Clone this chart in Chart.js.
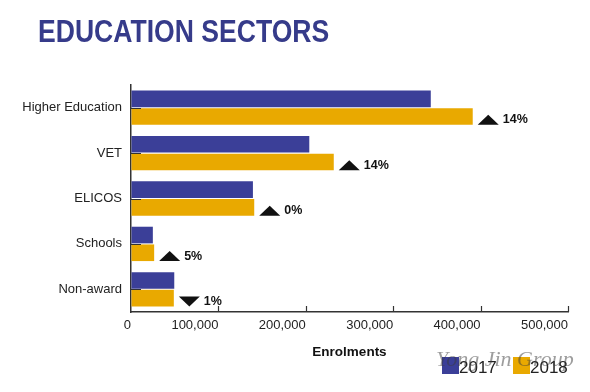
<!DOCTYPE html>
<html>
<head>
<meta charset="utf-8">
<script src="https://cdn.jsdelivr.net/npm/chart.js@4/dist/chart.umd.min.js"></script>
<style>
  html, body { margin: 0; padding: 0; background: #ffffff; }
  #wrap { position: relative; width: 590px; height: 392px; }
  #title { position: absolute; left: 38px; top: 13px; font-family: "Liberation Sans", Arial, sans-serif; font-weight: bold; font-size: 32px; color: #363b8a; white-space: nowrap; transform: scaleX(0.83); transform-origin: 0 0; }
  canvas { position: absolute; left: 0; top: 0; }
</style>
</head>
<body>
<div id="wrap">
  <canvas id="c" width="590" height="392"></canvas>
  <div id="title">EDUCATION SECTORS</div>
</div>
<script>
const categories = ["Higher Education", "VET", "ELICOS", "Schools", "Non-award"];
const seriesNames = ["2017", "2018"];
const values2017 = [343000, 204000, 139500, 25000, 49500];
const values2018 = [391000, 232000, 141000, 26500, 49000];
const changeLabels = ["14%", "14%", "0%", "5%", "1%"];
const changeDirections = ["up", "up", "up", "up", "down"];
const xTickValues = [0, 100000, 200000, 300000, 400000, 500000];
const axisTitle = "Enrolments";
const watermarkText = "Yong Jin Group";

const BLUE = "#3b3f98";
const GOLD = "#e9a900";
const FONT = "'Liberation Sans', Arial, sans-serif";

const decorPlugin = {
  id: "decor",
  afterDatasetsDraw(chart) {
    const ctx = chart.ctx;
    const xs = chart.scales.x;
    const ys = chart.scales.y;
    const area = chart.chartArea;
    ctx.save();
    ctx.strokeStyle = "#333";
    ctx.lineWidth = 1.2;
    xTickValues.forEach(v => {
      if (v === 0) return;
      const px = Math.round(xs.getPixelForValue(v)) + 0.5;
      ctx.beginPath();
      ctx.moveTo(px, area.bottom);
      ctx.lineTo(px, area.bottom - 6);
      ctx.stroke();
    });
    ctx.lineWidth = 1;
    categories.forEach((c, i) => {
      const py = Math.round(ys.getPixelForValue(i)) + 0.5;
      ctx.beginPath();
      ctx.moveTo(area.left, py);
      ctx.lineTo(area.left + 10, py);
      ctx.stroke();
    });
    const meta = chart.getDatasetMeta(1);
    ctx.fillStyle = "#111";
    meta.data.forEach((bar, i) => {
      const props = bar.getProps(["x", "y", "height"], true);
      const bottom = props.y + props.height / 2;
      const cy = bottom - 5;
      const x0 = props.x + 5;
      const w = 21, h = 10;
      ctx.beginPath();
      if (changeDirections[i] === "up") {
        ctx.moveTo(x0, cy + h / 2);
        ctx.lineTo(x0 + w, cy + h / 2);
        ctx.lineTo(x0 + w / 2, cy - h / 2);
      } else {
        ctx.moveTo(x0, cy - h / 2);
        ctx.lineTo(x0 + w, cy - h / 2);
        ctx.lineTo(x0 + w / 2, cy + h / 2);
      }
      ctx.closePath();
      ctx.fill();
      ctx.font = "bold 12.5px " + FONT;
      ctx.textAlign = "left";
      ctx.textBaseline = "middle";
      ctx.fillText(changeLabels[i], x0 + w + 4, cy);
    });
    ctx.restore();
  },
  afterDraw(chart) {
    const ctx = chart.ctx;
    ctx.save();
    const colors = [BLUE, GOLD];
    const positions = [442, 513];
    ctx.font = "17px " + FONT;
    ctx.textBaseline = "middle";
    ctx.textAlign = "left";
    chart.data.datasets.forEach((ds, i) => {
      ctx.fillStyle = colors[i];
      ctx.fillRect(positions[i], 357, 17, 17);
      ctx.fillStyle = "#222";
      ctx.fillText(ds.label, positions[i] + 17, 368);
    });
    ctx.font = "italic 22px 'Liberation Serif', serif";
    ctx.fillStyle = "rgba(60,60,60,0.5)";
    ctx.textBaseline = "middle";
    ctx.fillText(watermarkText, 436, 360);
    ctx.restore();
  }
};

new Chart(document.getElementById("c"), {
  type: "bar",
  data: {
    labels: categories,
    datasets: [
      { label: seriesNames[0], data: values2017, backgroundColor: BLUE, categoryPercentage: 0.78, barPercentage: 0.94 },
      { label: seriesNames[1], data: values2018, backgroundColor: GOLD, categoryPercentage: 0.78, barPercentage: 0.94 }
    ]
  },
  options: {
    indexAxis: "y",
    responsive: false,
    animation: false,
    layout: { padding: { top: 85, right: 22, bottom: 0, left: 0 } },
    plugins: { legend: { display: false }, tooltip: { enabled: false }, title: { display: false } },
    scales: {
      x: {
        min: 0, max: 500000,
        afterBuildTicks(scale) { scale.ticks = xTickValues.map(v => ({ value: v })); },
        afterFit(scale) { scale.height = 80; scale.paddingLeft = 0; scale.paddingRight = 0; },
        grid: { display: true, drawOnChartArea: false, drawTicks: false },
        border: { display: true, color: "#333", width: 1.5 },
        ticks: {
          padding: 6,
          align: "end",
          color: "#222",
          font: { family: FONT, size: 13 },
          callback: v => Number(v).toLocaleString("en-US")
        },
        title: {
          display: true, text: axisTitle, color: "#111",
          font: { family: FONT, size: 13.5, weight: "bold" },
          padding: { top: 0, bottom: 32 }
        }
      },
      y: {
        afterFit(scale) { scale.width = 131; scale.paddingTop = 0; scale.paddingBottom = 0; },
        grid: { display: false, drawTicks: false },
        border: { display: true, color: "#333", width: 1.5 },
        ticks: { padding: 9, color: "#222", font: { family: FONT, size: 13 } }
      }
    }
  },
  plugins: [decorPlugin]
});
</script>
</body>
</html>
